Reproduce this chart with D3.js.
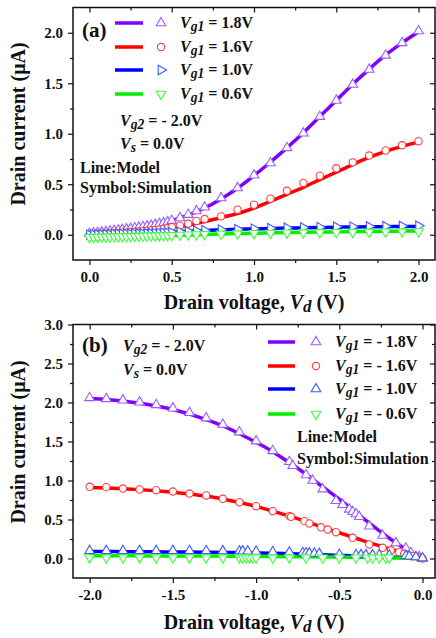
<!DOCTYPE html>
<html>
<head>
<meta charset="utf-8">
<script src="https://cdn.jsdelivr.net/npm/d3@7"></script>
<style>
  body { margin: 0; background: #fff; }
  text { font-family: "Liberation Serif", "Times New Roman", serif; font-weight: bold; fill: #111; }
</style>
</head>
<body>
<svg id="chart" width="436" height="638"></svg>
<script>
// ---- panel (a): Vd from 0 to 2 V ----
var modelXA = [0, 0.1, 0.2, 0.3, 0.4, 0.5, 0.6, 0.7, 0.8, 0.9, 1.0, 1.1, 1.2, 1.3, 1.4, 1.5, 1.6, 1.7, 1.8, 1.9, 2.0];
var modelA18 = [0.02, 0.03, 0.05, 0.072, 0.1, 0.14, 0.195, 0.265, 0.355, 0.46, 0.585, 0.72, 0.86, 1.01, 1.17, 1.33, 1.49, 1.64, 1.78, 1.9, 2.01];
var modelA16 = [0.0, 0.008, 0.02, 0.033, 0.05, 0.07, 0.095, 0.13, 0.17, 0.21, 0.265, 0.33, 0.4, 0.47, 0.545, 0.62, 0.695, 0.765, 0.825, 0.875, 0.92];
var modelA10 = [0.0, 0.004, 0.008, 0.013, 0.019, 0.026, 0.034, 0.042, 0.048, 0.054, 0.058, 0.062, 0.066, 0.069, 0.072, 0.075, 0.077, 0.079, 0.08, 0.081, 0.082];
var modelA06 = [-0.03, -0.027, -0.022, -0.017, -0.012, -0.007, -0.002, 0.003, 0.008, 0.012, 0.016, 0.019, 0.022, 0.025, 0.027, 0.029, 0.031, 0.033, 0.035, 0.036, 0.037];

var simXA = [0, 0.025, 0.05, 0.075, 0.1, 0.125, 0.15, 0.175, 0.2, 0.225, 0.25, 0.275, 0.3, 0.325, 0.35, 0.375, 0.4, 0.425, 0.45, 0.475,
             0.5, 0.55, 0.6, 0.65, 0.7, 0.8, 0.9, 1.0, 1.1, 1.2, 1.3, 1.4, 1.5, 1.6, 1.7, 1.8, 1.9, 2.0];
var simA18 = [0.01, 0.015, 0.02, 0.025, 0.03, 0.035, 0.04, 0.045, 0.05, 0.055, 0.06, 0.066, 0.072, 0.078, 0.085, 0.092, 0.1, 0.108, 0.117, 0.127,
              0.14, 0.166, 0.2, 0.235, 0.272, 0.364, 0.463, 0.59, 0.71, 0.86, 1.005, 1.17, 1.33, 1.488, 1.637, 1.776, 1.9, 2.017];
var simA16 = [0.0, 0.003, 0.005, 0.008, 0.01, 0.012, 0.015, 0.018, 0.02, 0.023, 0.026, 0.029, 0.032, 0.036, 0.04, 0.044, 0.048, 0.053, 0.058, 0.066,
              0.076, 0.09, 0.109, 0.137, 0.156, 0.182, 0.248, 0.298, 0.357, 0.435, 0.513, 0.585, 0.658, 0.717, 0.784, 0.835, 0.886, 0.926];
var simA10 = [0.0, 0.001, 0.002, 0.003, 0.004, 0.005, 0.006, 0.007, 0.008, 0.009, 0.01, 0.011, 0.012, 0.013, 0.014, 0.015, 0.016, 0.018, 0.02, 0.022,
              0.025, 0.03, 0.035, 0.04, 0.045, 0.05, 0.055, 0.06, 0.064, 0.068, 0.072, 0.075, 0.078, 0.08, 0.082, 0.084, 0.086, 0.088];
var simA06 = [-0.025, -0.024, -0.023, -0.022, -0.021, -0.02, -0.019, -0.018, -0.017, -0.016, -0.015, -0.014, -0.013, -0.012, -0.011, -0.01, -0.009, -0.008, -0.007, -0.006,
              -0.005, -0.002, 0.0, 0.002, 0.004, 0.008, 0.011, 0.014, 0.017, 0.019, 0.021, 0.023, 0.025, 0.027, 0.028, 0.03, 0.031, 0.032];

// ---- panel (b): Vd from -2 to 0 V ----
var modelXB = [-2.0, -1.9, -1.8, -1.7, -1.6, -1.5, -1.4, -1.3, -1.2, -1.1, -1.0, -0.9, -0.8, -0.7, -0.6, -0.5, -0.4, -0.3, -0.2, -0.1, 0.0];
var modelB18 = [2.05, 2.04, 2.02, 1.99, 1.955, 1.91, 1.85, 1.78, 1.7, 1.6, 1.49, 1.37, 1.23, 1.08, 0.92, 0.76, 0.59, 0.42, 0.26, 0.12, 0.0];
var modelB16 = [0.91, 0.905, 0.895, 0.883, 0.868, 0.85, 0.828, 0.8, 0.762, 0.718, 0.668, 0.608, 0.543, 0.473, 0.4, 0.33, 0.26, 0.19, 0.125, 0.06, 0.0];
var modelB10 = [0.09, 0.089, 0.088, 0.087, 0.085, 0.084, 0.082, 0.08, 0.078, 0.075, 0.072, 0.068, 0.062, 0.056, 0.048, 0.04, 0.032, 0.025, 0.018, 0.01, 0.0];
var modelB06 = [0.035, 0.035, 0.034, 0.034, 0.033, 0.033, 0.032, 0.031, 0.03, 0.029, 0.028, 0.026, 0.024, 0.022, 0.02, 0.018, 0.015, 0.012, 0.008, 0.004, 0.0];

var simXB18 = [-2.0, -1.9, -1.8, -1.7, -1.6, -1.5, -1.4, -1.3, -1.2, -1.1, -1.0, -0.9, -0.8, -0.78, -0.7,
               -0.66, -0.6, -0.52, -0.48, -0.44, -0.42, -0.4, -0.38, -0.32, -0.24, -0.16, -0.1, -0.07, -0.02, 0.0];
var simB18 = [2.06, 2.047, 2.03, 2.004, 1.97, 1.927, 1.868, 1.8, 1.718, 1.62, 1.505, 1.38, 1.24, 1.19, 1.07,
              1.0, 0.89, 0.74, 0.69, 0.63, 0.6, 0.57, 0.535, 0.414, 0.295, 0.2, 0.13, 0.073, 0.02, 0.0];
var simXB16 = [-2.0, -1.9, -1.8, -1.7, -1.6, -1.5, -1.4, -1.3, -1.2, -1.1, -1.0, -0.9, -0.8, -0.79,
               -0.71, -0.68, -0.61, -0.57, -0.52, -0.42, -0.32, -0.24, -0.19, -0.14, -0.11, -0.06, -0.02, 0.0];
var simB16 = [0.919, 0.915, 0.897, 0.885, 0.876, 0.859, 0.833, 0.808, 0.765, 0.722, 0.671, 0.607, 0.543, 0.535,
              0.479, 0.449, 0.4, 0.372, 0.337, 0.265, 0.18, 0.137, 0.106, 0.081, 0.06, 0.03, 0.009, 0.0];
var simXB10 = [-2.0, -1.9, -1.8, -1.7, -1.6, -1.5, -1.4, -1.3, -1.2, -1.1, -1.08, -1.05, -1.0, -0.9, -0.8, -0.72,
               -0.7, -0.68, -0.65, -0.62, -0.5, -0.4, -0.37, -0.34, -0.3, -0.26, -0.2, -0.1, -0.08, -0.04, 0.0];
var simB10 = [0.1, 0.1, 0.1, 0.1, 0.1, 0.1, 0.099, 0.098, 0.097, 0.095, 0.094, 0.093, 0.09, 0.085, 0.08, 0.072,
              0.07, 0.068, 0.065, 0.062, 0.05, 0.047, 0.046, 0.046, 0.045, 0.044, 0.042, 0.035, 0.03, 0.02, 0.005];
var simXB06 = [-2.0, -1.9, -1.8, -1.7, -1.6, -1.5, -1.4, -1.3, -1.2, -1.1, -1.08, -1.06, -1.04,
               -1.02, -1.0, -0.9, -0.8, -0.7, -0.6, -0.5, -0.4, -0.33, -0.3, -0.26, -0.22, -0.2];
var simB06 = [0.012, 0.012, 0.012, 0.012, 0.012, 0.012, 0.012, 0.012, 0.012, 0.012, 0.012, 0.012, 0.012,
              0.011, 0.011, 0.011, 0.011, 0.011, 0.01, 0.01, 0.01, 0.01, 0.01, 0.01, 0.01, 0.01];

// ticks and legend labels
var xTicksA = [0, 0.5, 1.0, 1.5, 2.0], xMinorA = [0.25, 0.75, 1.25, 1.75];
var yTicksA = [0, 0.5, 1.0, 1.5, 2.0], yMinorA = [0.25, 0.75, 1.25, 1.75];
var xTicksB = [-2.0, -1.5, -1.0, -0.5, 0], xMinorB = [-1.75, -1.25, -0.75, -0.25];
var yTicksB = [0, 0.5, 1.0, 1.5, 2.0, 2.5, 3.0], yMinorB = [0.25, 0.75, 1.25, 1.75, 2.25, 2.75];
var legendA = ['1.8V', '1.6V', '1.0V', '0.6V'];
var legendB = ['- 1.8V', '- 1.6V', '- 1.0V', '- 0.6V'];

var lineColors = ['#7f00ff', '#ff0000', '#0000ff', '#00ee00'];
var markColors = ['#9b5cff', '#ff3b3b', '#3a5cff', '#3cff3c'];

var svg = d3.select('#chart');

function fmt(d) { return d.toFixed(1); }

function subLabel(sel, main, sub, rest) {
    sel.append('tspan').style('font-style', 'italic').text(main);
    sel.append('tspan').style('font-style', 'italic').attr('font-size', '0.85em').attr('dy', 3).text(sub);
    sel.append('tspan').attr('dy', -3).text(rest);
}

function markerPath(type) {
    return d3.symbol().type(type === 'circle' ? d3.symbolCircle : d3.symbolTriangle)
        .size(type === 'circle' ? 42 : 40);
}
function markerRot(type) {
    return type === 'down' ? 180 : (type === 'right' ? 90 : 0);
}

function drawPanel(p) {
    var x = d3.scaleLinear().domain(p.xDomain).range([p.left, p.right]);
    var y = d3.scaleLinear().domain(p.yDomain).range([p.bottom, p.top]);
    var g = svg.append('g');

    var clipId = 'clip-' + p.name;
    svg.append('clipPath').attr('id', clipId).append('rect')
        .attr('x', p.left).attr('y', p.top)
        .attr('width', p.right - p.left).attr('height', p.bottom - p.top);

    // axes: outward ticks on left/bottom, inward on top/right
    function axisStyle(a) {
        a.select('.domain').remove();
        a.selectAll('line').attr('stroke', '#111').attr('stroke-width', 1.2);
        a.selectAll('text').attr('font-size', 15).attr('fill', '#111')
            .style('font-family', '"Liberation Serif", serif').style('font-weight', 'bold');
    }
    g.append('g').attr('transform', 'translate(0,' + p.bottom + ')')
        .call(d3.axisBottom(x).tickValues(p.xTicks).tickSize(5).tickPadding(6).tickFormat(fmt)).call(axisStyle);
    g.append('g').attr('transform', 'translate(0,' + p.bottom + ')')
        .call(d3.axisBottom(x).tickValues(p.xMinor).tickSize(3).tickFormat('')).call(axisStyle);
    g.append('g').attr('transform', 'translate(' + p.left + ',0)')
        .call(d3.axisLeft(y).tickValues(p.yTicks).tickSize(5).tickPadding(5).tickFormat(fmt)).call(axisStyle);
    g.append('g').attr('transform', 'translate(' + p.left + ',0)')
        .call(d3.axisLeft(y).tickValues(p.yMinor).tickSize(3).tickFormat('')).call(axisStyle);
    g.append('g').attr('transform', 'translate(0,' + p.top + ')')
        .call(d3.axisTop(x).tickValues(p.xTicks).tickSize(-5).tickFormat('')).call(axisStyle);
    g.append('g').attr('transform', 'translate(0,' + p.top + ')')
        .call(d3.axisTop(x).tickValues(p.xMinor).tickSize(-3).tickFormat('')).call(axisStyle);
    g.append('g').attr('transform', 'translate(' + p.right + ',0)')
        .call(d3.axisRight(y).tickValues(p.yTicks).tickSize(-5).tickFormat('')).call(axisStyle);
    g.append('g').attr('transform', 'translate(' + p.right + ',0)')
        .call(d3.axisRight(y).tickValues(p.yMinor).tickSize(-3).tickFormat('')).call(axisStyle);

    g.append('rect')
        .attr('x', p.left).attr('y', p.top)
        .attr('width', p.right - p.left).attr('height', p.bottom - p.top)
        .attr('fill', 'none').attr('stroke', '#111').attr('stroke-width', 1.5);

    var plot = g.append('g').attr('clip-path', 'url(#' + clipId + ')');
    var line = d3.line().x(function (d) { return x(d[0]); }).y(function (d) { return y(d[1]); })
        .curve(d3.curveMonotoneX);

    p.models.forEach(function (m, i) {
        plot.append('path')
            .datum(d3.zip(p.modelX, m))
            .attr('d', line)
            .attr('fill', 'none')
            .attr('stroke', lineColors[i])
            .attr('stroke-width', 3.5);
    });

    p.sims.forEach(function (s, i) {
        var sym = markerPath(s.type), rot = markerRot(s.type);
        plot.append('g').selectAll('path')
            .data(d3.zip(s.x, s.y))
            .join('path')
            .attr('d', sym)
            .attr('transform', function (d) { return 'translate(' + x(d[0]) + ',' + y(d[1]) + ') rotate(' + rot + ')'; })
            .attr('fill', '#fff')
            .attr('stroke', markColors[i])
            .attr('stroke-width', 1.1);
    });

    // axis titles
    svg.append('text')
        .attr('transform', 'translate(25,' + p.yLabelMid + ') rotate(-90)')
        .attr('text-anchor', 'middle').attr('font-size', 20)
        .text('Drain current (\u03bcA)');

    var xl = svg.append('text')
        .attr('x', 254).attr('y', p.xLabelY)
        .attr('text-anchor', 'middle').attr('font-size', 20);
    xl.append('tspan').text('Drain voltage, ');
    xl.append('tspan').style('font-style', 'italic').text('V');
    xl.append('tspan').style('font-style', 'italic').attr('font-size', 17).attr('dy', 3).text('d');
    xl.append('tspan').attr('dy', -3).text(' (V)');

    // panel letter
    svg.append('text').attr('x', 82).attr('y', p.letterY).attr('font-size', 21).text(p.letter);

    // legend
    var lg = p.legend;
    p.sims.forEach(function (s, i) {
        var cy = lg.rows[i];
        svg.append('line')
            .attr('x1', lg.lineX0).attr('x2', lg.lineX1).attr('y1', cy).attr('y2', cy)
            .attr('stroke', lineColors[i]).attr('stroke-width', 3.5);
        svg.append('path').attr('d', markerPath(s.type)())
            .attr('transform', 'translate(' + lg.markX + ',' + cy + ') rotate(' + markerRot(s.type) + ')')
            .attr('fill', '#fff').attr('stroke', markColors[i]).attr('stroke-width', 1.1);
        var t = svg.append('text').attr('x', lg.textX).attr('y', cy + 5).attr('font-size', 16);
        subLabel(t, 'V', 'g1', ' = ' + p.legendText[i]);
    });

    // bias notes
    var n1 = svg.append('text').attr('x', p.notes.x).attr('y', p.notes.y1).attr('font-size', 16);
    subLabel(n1, 'V', 'g2', ' = - 2.0V');
    var n2 = svg.append('text').attr('x', p.notes.x).attr('y', p.notes.y2).attr('font-size', 16);
    subLabel(n2, 'V', 's', ' = 0.0V');
    svg.append('text').attr('x', p.notes.mx).attr('y', p.notes.my1).attr('font-size', 16).text('Line:Model');
    svg.append('text').attr('x', p.notes.mx).attr('y', p.notes.my2).attr('font-size', 16).text('Symbol:Simulation');
}

drawPanel({
    name: 'a', letter: '(a)', letterY: 37,
    left: 73, right: 435, top: 7.5, bottom: 260,
    xDomain: [-0.1, 2.1], yDomain: [-0.25, 2.25],
    xTicks: xTicksA, xMinor: xMinorA, yTicks: yTicksA, yMinor: yMinorA,
    modelX: modelXA, models: [modelA18, modelA16, modelA10, modelA06],
    sims: [
        { x: simXA, y: simA18, type: 'up' },
        { x: simXA, y: simA16, type: 'circle' },
        { x: simXA, y: simA10, type: 'right' },
        { x: simXA, y: simA06, type: 'down' }
    ],
    legendText: legendA,
    legend: { rows: [23, 47, 70, 94], lineX0: 115, lineX1: 143, markX: 161, textX: 180 },
    notes: { x: 120, y1: 126, y2: 149, mx: 80, my1: 173, my2: 193 },
    yLabelMid: 124, xLabelY: 309
});

drawPanel({
    name: 'b', letter: '(b)', letterY: 352,
    left: 73, right: 435, top: 324.5, bottom: 578,
    xDomain: [-2.1, 0.075], yDomain: [-0.25, 3.0],
    xTicks: xTicksB, xMinor: xMinorB, yTicks: yTicksB, yMinor: yMinorB,
    modelX: modelXB, models: [modelB18, modelB16, modelB10, modelB06],
    sims: [
        { x: simXB18, y: simB18, type: 'up' },
        { x: simXB16, y: simB16, type: 'circle' },
        { x: simXB10, y: simB10, type: 'up' },
        { x: simXB06, y: simB06, type: 'down' }
    ],
    legendText: legendB,
    legend: { rows: [342, 366, 389, 414], lineX0: 268, lineX1: 295, markX: 316, textX: 335 },
    notes: { x: 123, y1: 351, y2: 375, mx: 297, my1: 442, my2: 464 },
    yLabelMid: 442, xLabelY: 629
});
</script>
</body>
</html>
